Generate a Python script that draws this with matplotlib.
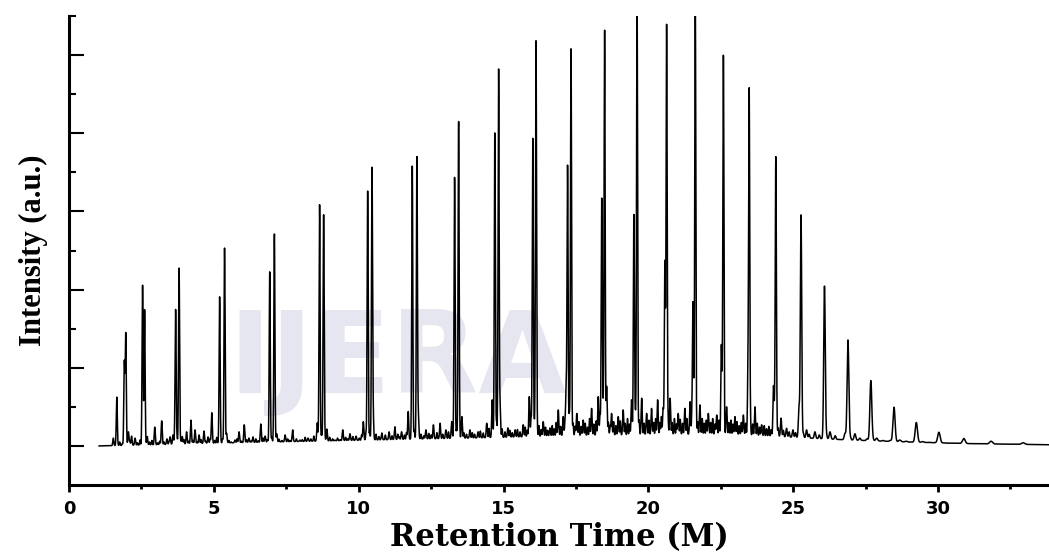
import numpy as np
import matplotlib
matplotlib.use("Agg")
import matplotlib.pyplot as plt
from matplotlib.ticker import MultipleLocator, FixedLocator

# homologous series peaks: retention time (min) and apex intensity (a.u.)
major_t = [1.65, 1.91, 1.96, 2.54, 2.61, 3.68, 3.80, 4.93, 5.20, 5.37,
           6.93, 7.09, 8.65, 8.79, 10.31, 10.46, 11.85, 12.01, 13.31, 13.45,
           14.70, 14.83, 16.01, 16.12, 17.21, 17.33, 18.39, 18.49, 19.50, 19.61,
           20.57, 20.63, 21.54, 21.62, 22.52, 22.59, 23.44, 23.48, 24.32, 24.40,
           25.20, 25.27, 26.08, 26.89, 27.68, 28.48, 29.25, 30.03, 30.89, 31.83,
           32.94]
major_h = [2.25, 3.13, 3.86, 5.11, 4.49, 4.49, 5.55, 1.85, 4.82, 6.07,
           5.46, 6.43, 7.18, 6.92, 7.52, 8.08, 8.17, 8.40, 7.87, 9.31,
           9.02, 10.64, 8.87, 10.89, 8.16, 11.16, 7.35, 11.65, 6.93, 12.40,
           5.71, 11.77, 4.68, 12.50, 3.58, 10.94, 2.90, 10.02, 2.53, 8.40,
           1.97, 6.91, 5.09, 3.71, 2.67, 1.99, 1.60, 1.35, 1.19, 1.12,
           1.08]

# small peaks in the background
minor_t = [1.53, 2.05, 2.16, 2.28, 2.70, 2.96, 3.20, 3.38, 3.49, 3.59,
           3.91, 4.06, 4.21, 4.35, 4.49, 4.66, 4.80, 5.44, 5.73, 5.87,
           6.05, 6.21, 6.35, 6.62, 6.77, 7.17, 7.46, 7.72, 7.97, 8.25,
           8.57, 8.90, 9.18, 9.45, 9.70, 9.91, 10.16, 10.50, 10.80, 11.05,
           11.25, 11.48, 11.71, 12.06, 12.32, 12.58, 12.81, 13.01, 13.21, 13.56,
           13.84, 14.12, 14.42, 14.61, 14.88, 15.15, 15.40, 15.68, 15.89, 16.14,
           16.37, 16.60, 16.89, 17.06, 17.16, 17.53, 17.75, 18.04, 18.27, 18.56,
           18.73, 18.96, 19.13, 19.42, 19.77, 19.94, 20.11, 20.32, 20.51, 20.75,
           21.03, 21.26, 21.44, 21.78, 22.07, 22.36, 22.70, 22.99, 23.28, 23.68,
           23.91, 24.58, 24.77, 24.99, 25.46, 25.75, 26.27, 26.79, 27.13, 27.88,
           28.68, 29.47]
minor_h = [1.20, 1.36, 1.25, 1.20, 1.24, 1.48, 1.64, 1.18, 1.23, 1.28,
           1.24, 1.36, 1.66, 1.41, 1.28, 1.38, 1.23, 1.32, 1.15, 1.36,
           1.54, 1.20, 1.23, 1.56, 1.25, 1.31, 1.28, 1.41, 1.15, 1.20,
           1.59, 1.43, 1.15, 1.41, 1.31, 1.25, 1.62, 1.75, 1.33, 1.36,
           1.49, 1.36, 1.88, 1.75, 1.41, 1.54, 1.58, 1.41, 1.62, 1.75,
           1.41, 1.36, 1.58, 2.18, 2.00, 1.46, 1.41, 1.54, 2.26, 2.10,
           1.62, 1.46, 1.92, 1.75, 2.39, 1.83, 1.66, 1.96, 2.26, 2.52,
           1.83, 1.75, 1.92, 2.18, 2.22, 1.83, 1.96, 2.18, 1.96, 2.22,
           1.83, 1.96, 2.13, 2.05, 1.83, 1.79, 2.00, 1.75, 1.79, 2.00,
           1.54, 1.71, 1.45, 1.41, 1.41, 1.36, 1.36, 1.32, 1.31, 1.20,
           1.15, 1.11]

# tiny spikes making up the noise band
micro_t = [1.75, 1.84, 2.10, 2.36, 2.45, 2.78, 2.86, 3.06, 3.13, 3.28,
           3.45, 3.64, 3.73, 3.86, 3.97, 4.13, 4.28, 4.42, 4.56, 4.72,
           4.87, 5.03, 5.10, 5.30, 5.52, 5.60, 5.80, 5.95, 6.13, 6.28,
           6.45, 6.53, 6.70, 6.85, 7.00, 7.25, 7.35, 7.55, 7.63, 7.85,
           8.05, 8.15, 8.35, 8.45, 8.72, 8.83, 9.00, 9.10, 9.27, 9.36,
           9.55, 9.62, 9.80, 10.02, 10.10, 10.25, 10.38, 10.60, 10.70, 10.92,
           11.15, 11.35, 11.40, 11.58, 11.65, 11.92, 12.15, 12.25, 12.42, 12.50,
           12.70, 12.90, 13.10, 13.38, 13.63, 13.72, 13.92, 14.00, 14.20, 14.30,
           14.50, 14.76, 14.95, 15.05, 15.22, 15.30, 15.48, 15.57, 15.75, 15.82,
           15.95, 16.06, 16.22, 16.30, 16.45, 16.52, 16.68, 16.75, 16.82, 16.97,
           17.12, 17.27, 17.40, 17.47, 17.60, 17.68, 17.82, 17.90, 17.97, 18.12,
           18.20, 18.33, 18.44, 18.62, 18.68, 18.80, 18.88, 19.03, 19.20, 19.28,
           19.35, 19.55, 19.68, 19.85, 20.02, 20.18, 20.25, 20.40, 20.45, 20.68,
           20.82, 20.90, 20.97, 21.10, 21.18, 21.33, 21.50, 21.58, 21.70, 21.86,
           21.93, 22.00, 22.15, 22.22, 22.30, 22.44, 22.56, 22.78, 22.85, 22.92,
           23.06, 23.14, 23.21, 23.36, 23.52, 23.60, 23.76, 23.84, 24.00, 24.08,
           24.16, 24.24, 24.36, 24.48, 24.66, 24.86, 25.08, 25.35, 25.55, 25.90,
           26.15, 26.45, 26.97, 27.30, 27.55, 27.75, 28.10, 28.35, 28.90, 29.70,
           30.30]
micro_h = [1.10, 1.06, 1.12, 1.08, 1.15, 1.10, 1.14, 1.08, 1.12, 1.10,
           1.09, 1.14, 1.20, 1.12, 1.16, 1.12, 1.14, 1.10, 1.16, 1.12,
           1.18, 1.14, 1.22, 1.18, 1.14, 1.10, 1.18, 1.12, 1.16, 1.12,
           1.18, 1.13, 1.20, 1.16, 1.22, 1.17, 1.14, 1.18, 1.14, 1.18,
           1.16, 1.22, 1.18, 1.25, 1.30, 1.28, 1.22, 1.18, 1.20, 1.16,
           1.22, 1.18, 1.24, 1.20, 1.28, 1.32, 1.36, 1.30, 1.24, 1.28,
           1.26, 1.30, 1.24, 1.28, 1.34, 1.40, 1.30, 1.26, 1.32, 1.28,
           1.34, 1.30, 1.36, 1.42, 1.34, 1.30, 1.34, 1.30, 1.38, 1.33,
           1.45, 1.60, 1.44, 1.36, 1.40, 1.34, 1.42, 1.36, 1.48, 1.40,
           1.70, 1.55, 1.52, 1.42, 1.48, 1.40, 1.52, 1.44, 1.60, 1.50,
           1.58, 1.80, 1.58, 1.50, 1.62, 1.50, 1.58, 1.48, 1.70, 1.56,
           1.64, 1.80, 1.90, 1.60, 1.52, 1.62, 1.52, 1.64, 1.58, 1.70,
           1.56, 1.80, 1.66, 1.58, 1.66, 1.60, 1.70, 1.60, 1.75, 1.66,
           1.60, 1.70, 1.56, 1.68, 1.58, 1.70, 1.72, 1.80, 1.62, 1.70,
           1.58, 1.66, 1.60, 1.70, 1.56, 1.66, 1.90, 1.60, 1.66, 1.56,
           1.62, 1.52, 1.60, 1.58, 1.70, 1.56, 1.58, 1.48, 1.52, 1.44,
           1.50, 1.42, 1.60, 1.46, 1.40, 1.36, 1.34, 1.32, 1.30, 1.28,
           1.26, 1.26, 1.22, 1.20, 1.18, 1.16, 1.14, 1.14, 1.12, 1.09,
           1.07]

# baseline drift
base_t = [1.04, 3.0, 5.0, 7.0, 9.0, 11.0, 13.0, 15.0, 17.0, 19.0,
          21.0, 23.0, 24.0, 25.0, 27.0, 29.0, 31.0, 33.83]
base_y = [1.00, 1.03, 1.07, 1.10, 1.13, 1.16, 1.19, 1.22, 1.26, 1.28,
          1.30, 1.30, 1.26, 1.22, 1.15, 1.10, 1.06, 1.03]

t = np.arange(1.04, 33.84, 0.003)
y = np.interp(t, base_t, base_y)
peaks = [(tc, h, 0.018) for tc, h in zip(major_t + minor_t, major_h + minor_h)]
peaks += [(tc, h, 0.014) for tc, h in zip(micro_t, micro_h)]
for tc, h, s0 in peaks:
    s = s0 + 0.004 * max(tc - 24.0, 0.0)
    amp = h - np.interp(tc, base_t, base_y)
    y = y + amp * np.exp(-0.5 * ((t - tc) / s) ** 2)

fig = plt.figure(figsize=(10.49, 5.55), dpi=100)
ax = fig.add_axes([69 / 1049, 70 / 555, 980 / 1049, 469 / 555])
ax.patch.set_visible(False)

# faint publisher watermark behind the plot
fig.text(0.379, 0.292, "IJERA", fontsize=82, fontweight="bold",
         color="#e6e6f0", ha="center", va="baseline", zorder=-1)

ax.plot(t, y, color="black", lw=1.1)

ax.set_xlim(0, 33.83)
ax.set_ylim(0, 12)
for side in ("top", "right"):
    ax.spines[side].set_visible(False)
for side in ("left", "bottom"):
    ax.spines[side].set_linewidth(2.2)

ax.xaxis.set_major_locator(MultipleLocator(5))
ax.xaxis.set_minor_locator(MultipleLocator(2.5))
ax.yaxis.set_major_locator(FixedLocator([1, 3, 5, 7, 9, 11]))
ax.yaxis.set_minor_locator(FixedLocator([2, 4, 6, 8, 10, 12]))
ax.tick_params(axis="x", which="major", direction="out", length=5, width=2,
               pad=6, labelsize=13)
ax.tick_params(axis="x", which="minor", direction="out", length=3, width=2)
ax.tick_params(axis="y", which="major", direction="in", length=11, width=1.5,
               labelleft=False)
ax.tick_params(axis="y", which="minor", direction="in", length=5, width=1.5)
for lab in ax.get_xticklabels():
    lab.set_fontweight("bold")

ax.set_xlabel("Retention Time (M)", family="DejaVu Serif", fontweight="bold",
              fontsize=22, labelpad=3)
ax.set_ylabel("Intensity (a.u.)", family="Liberation Serif", fontweight="bold",
              fontsize=22, labelpad=12)

fig.savefig("out.png", dpi=100)
